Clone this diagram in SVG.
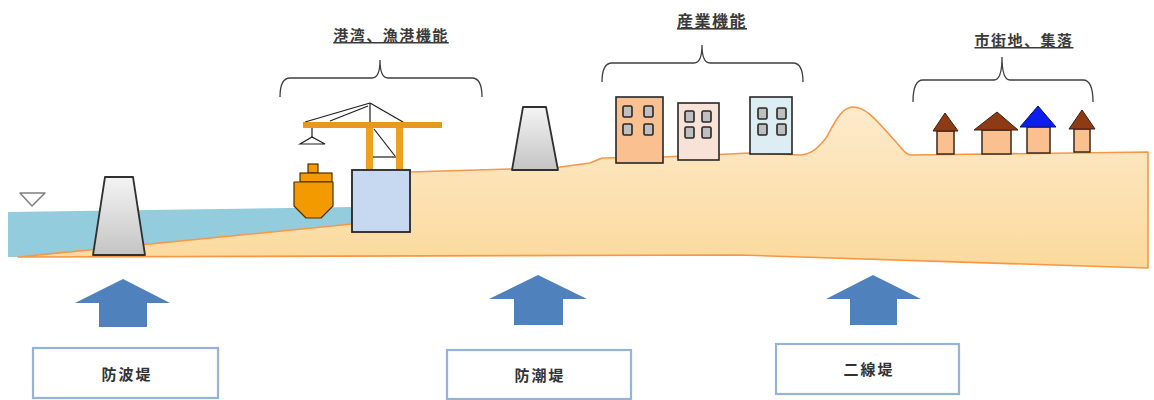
<svg xmlns="http://www.w3.org/2000/svg" width="1154" height="400" viewBox="0 0 1154 400">
  <defs>
    <linearGradient id="landGrad" x1="0" y1="0" x2="0" y2="1">
      <stop offset="0" stop-color="#FDEBCC"/>
      <stop offset="1" stop-color="#FBD99B"/>
    </linearGradient>
    <linearGradient id="dykeGrad" x1="0" y1="0" x2="0" y2="1">
      <stop offset="0" stop-color="#F4F4F4"/>
      <stop offset="1" stop-color="#C4C4C4"/>
    </linearGradient>
    <style>
      .label { font-family: "Noto Sans CJK JP", "Noto Sans CJK SC", sans-serif; font-size: 15px; font-weight: bold; fill: #3A3A3A; text-anchor: middle; letter-spacing: 1.5px; text-decoration: underline; }
      .boxtext { font-family: "Noto Sans CJK JP", "Noto Sans CJK SC", sans-serif; font-size: 15px; font-weight: bold; fill: #333333; text-anchor: middle; letter-spacing: 2px; }
      .brace { fill: none; stroke: #3F3F3F; stroke-width: 1.3; }
      .dyke { fill: url(#dykeGrad); stroke: #303030; stroke-width: 1.8; stroke-linejoin: round; }
      .win { fill: #BFBFBF; stroke: #262626; stroke-width: 1.6; }
      .bldg { stroke: #262626; stroke-width: 1.6; }
      .roof { fill: #8E3A14; stroke: #3A2010; stroke-width: 1; }
      .hbody { fill: #FAC090; stroke: #3A2A1A; stroke-width: 1.5; }
      .arrow { fill: #4F81BD; }
      .box { fill: #FFFFFF; stroke: #95B3D7; stroke-width: 2.2; }
      .wire { stroke: #1E1E1E; stroke-width: 1.2; fill: none; }
    </style>
  </defs>

  <!-- sea water -->
  <path d="M8,212 L352,207 L352,224 L18,257 L8,257 Z" fill="#93CDDD"/>

  <!-- ground cross-section -->
  <path d="M18,257 L352,224 L352,180 L410,172 L512,169 L560,167 L590,163 L602,158 L663,157 L750,153 L800,155 C812,154 818,148 826,138 C836,120 842,107 853,107 C868,107 880,125 896,142 C903,150 906,155 912,155 L1148,152 L1148,268 L740,255 Z" fill="url(#landGrad)" stroke="#F79646" stroke-width="1.6" stroke-linejoin="round"/>

  <!-- water level mark -->
  <path d="M20,193 L45,193 L32,206 Z" fill="#FFFFFF" stroke="#7F7F7F" stroke-width="1.5" stroke-linejoin="round"/>

  <!-- breakwater -->
  <g id="breakwater">
    <path class="dyke" d="M105,177 L133,177 L145,255 L93,255 Z"/>
  </g>

  <!-- harbour: ship and crane -->
  <g id="harbour">
    <rect x="308" y="164" width="10" height="9" fill="#F39A00" stroke="#4A3000" stroke-width="1.2"/>
    <rect x="300" y="173" width="32" height="9" fill="#F39A00" stroke="#4A3000" stroke-width="1.2"/>
    <path d="M294,182 L333,182 L333,206 L321,218 L306,218 L294,206 Z" fill="#F39A00" stroke="#4A3000" stroke-width="1.2" stroke-linejoin="round"/>

    <line class="wire" x1="370" y1="103" x2="370" y2="122"/>
    <line class="wire" x1="370" y1="103" x2="305" y2="122"/>
    <line class="wire" x1="368" y1="106" x2="330" y2="121"/>
    <line class="wire" x1="370" y1="103" x2="403" y2="122"/>
    <rect x="303" y="122" width="139" height="6" fill="#E59A1E"/>
    <line class="wire" x1="312" y1="128" x2="312" y2="138"/>
    <path class="wire" d="M300,144 L312,137 L325,144 Z"/>
    <rect x="366" y="128" width="7" height="42" fill="#F0A020"/>
    <rect x="396" y="128" width="7" height="42" fill="#F0A020"/>
    <line class="wire" x1="374" y1="129" x2="395" y2="156"/>
    <line class="wire" x1="373" y1="157" x2="396" y2="157"/>
    <rect x="352" y="170" width="58" height="62" fill="#C6D9F1" stroke="#262626" stroke-width="1.8"/>
  </g>

  <!-- sea wall -->
  <g id="seawall">
    <path class="dyke" d="M523,107 L546,107 L558,170 L512,170 Z"/>
  </g>

  <!-- industrial buildings -->
  <g id="industry">
    <rect class="bldg" x="616" y="97" width="47" height="66" fill="#FAC090"/>
    <rect class="win" x="623" y="106" width="9" height="11" rx="1.5"/>
    <rect class="win" x="644" y="106" width="9" height="11" rx="1.5"/>
    <rect class="win" x="623" y="124" width="9" height="11" rx="1.5"/>
    <rect class="win" x="644" y="124" width="9" height="11" rx="1.5"/>

    <rect class="bldg" x="678" y="103" width="41" height="57" fill="#F8E2D8"/>
    <rect class="win" x="685" y="111" width="9" height="11" rx="1.5"/>
    <rect class="win" x="702" y="111" width="9" height="11" rx="1.5"/>
    <rect class="win" x="685" y="127" width="9" height="11" rx="1.5"/>
    <rect class="win" x="702" y="127" width="9" height="11" rx="1.5"/>

    <rect class="bldg" x="750" y="97" width="42" height="57" fill="#DCEEF4"/>
    <rect class="win" x="758" y="108" width="9" height="11" rx="1.5"/>
    <rect class="win" x="777" y="108" width="9" height="11" rx="1.5"/>
    <rect class="win" x="758" y="124" width="9" height="11" rx="1.5"/>
    <rect class="win" x="777" y="124" width="9" height="11" rx="1.5"/>
  </g>

  <!-- houses -->
  <g id="houses">
    <rect class="hbody" x="937" y="131" width="17" height="23"/>
    <path class="roof" d="M945,113 L958,131 L933,131 Z"/>
    <rect class="hbody" x="982" y="130" width="29" height="24"/>
    <path class="roof" d="M997,112 L1018,130 L974,130 Z"/>
    <rect class="hbody" x="1027" y="127" width="23" height="26"/>
    <path d="M1038,106 L1056,127 L1020,127 Z" fill="#0A1EF0" stroke="#10106A" stroke-width="1"/>
    <rect class="hbody" x="1074" y="129" width="16" height="23"/>
    <path class="roof" d="M1082,110 L1095,129 L1069,129 Z"/>
  </g>

  <!-- braces and labels -->
  <g id="label-harbour">
    <path class="brace" d="M280,97 Q280,78 290,78 L372,78 Q380,78 380,60 Q380,78 388,78 L472,78 Q482,78 482,97"/>
    <text class="label" x="391" y="41">港湾、漁港機能</text>
  </g>
  <g id="label-industry">
    <path class="brace" d="M602,82 Q602,63 612,63 L694,63 Q702,63 702,45 Q702,63 710,63 L793,63 Q803,63 803,82"/>
    <text class="label" x="712" y="27" style="font-size:16px">産業機能</text>
  </g>
  <g id="label-town">
    <path class="brace" d="M913,102 Q913,80 923,80 L994,80 Q1002,80 1002,57 Q1002,80 1010,80 L1083,80 Q1093,80 1093,102"/>
    <text class="label" x="1024" y="46">市街地、集落</text>
  </g>

  <!-- arrows -->
  <g id="connectors">
    <path class="arrow" d="M123,279 L170,303 L147,303 L147,327 L99,327 L99,303 L75,303 Z"/>
    <path class="arrow" d="M538,275 L587,299 L563,299 L563,325 L514,325 L514,299 L489,299 Z"/>
    <path class="arrow" d="M873,275 L921,299 L897,299 L897,325 L850,325 L850,299 L826,299 Z"/>
  </g>

  <!-- defence-line boxes -->
  <g id="box-breakwater">
    <rect class="box" x="33" y="348" width="185" height="50"/>
    <text class="boxtext" x="127" y="380">防波堤</text>
  </g>
  <g id="box-seawall">
    <rect class="box" x="447" y="350" width="184" height="49"/>
    <text class="boxtext" x="540" y="381">防潮堤</text>
  </g>
  <g id="box-second">
    <rect class="box" x="776" y="344" width="183" height="50"/>
    <text class="boxtext" x="869" y="375">二線堤</text>
  </g>
</svg>
